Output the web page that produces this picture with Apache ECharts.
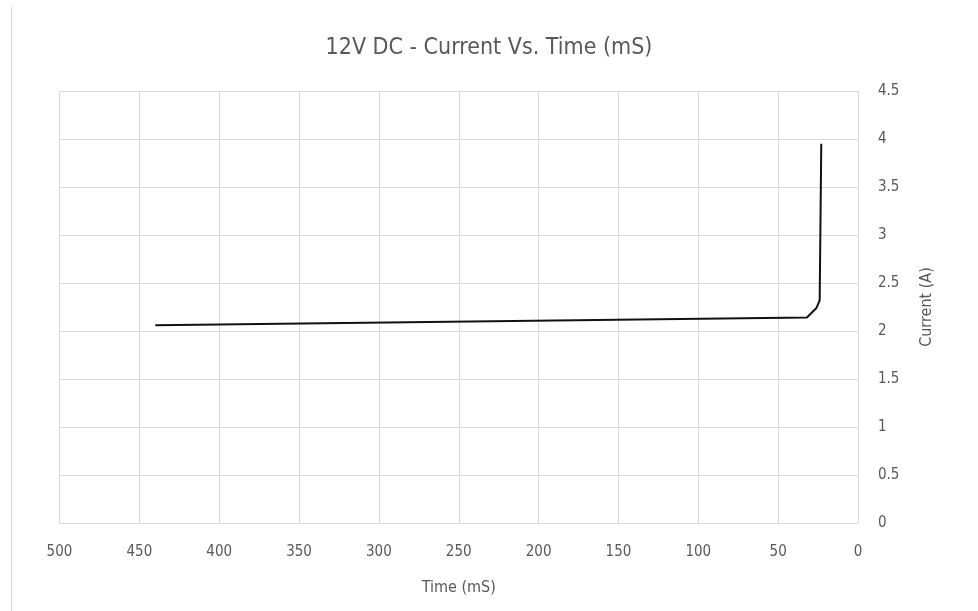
<!DOCTYPE html>
<html>
<head>
<meta charset="utf-8">
<script src="https://cdn.jsdelivr.net/npm/echarts@6/dist/echarts.min.js"></script>
<style>
  html, body { margin: 0; padding: 0; background: #fff; }
  #chart { width: 978px; height: 611px; }
</style>
</head>
<body>
<div id="chart"></div>
<script>
// time in mS (x axis runs 500 -> 0), current in A
const timeMs = [440, 32, 26, 24, 23]
const currentA = [2.06, 2.14, 2.24, 2.32, 3.95]

const titleText = '12V DC - Current Vs. Time (mS)'
const xName = 'Time (mS)'
const yName = 'Current (A)'

const font = '"Liberation Sans Narrow", "DejaVu Sans Condensed", "Noto Sans", sans-serif'
const textColor = '#595959'
const gridColor = '#d9d9d9'

const chart = echarts.init(document.getElementById('chart'), null, { renderer: 'canvas' })

chart.setOption({
  animation: false,
  backgroundColor: '#fff',
  textStyle: { fontFamily: font },
  title: {
    text: titleText,
    left: 'center',
    top: 32,
    textStyle: { color: textColor, fontSize: 23, fontWeight: 'normal', fontFamily: font },
  },
  graphic: [
    {
      type: 'line',
      shape: { x1: 11.5, y1: 7, x2: 11.5, y2: 611 },
      style: { stroke: gridColor, lineWidth: 1 },
    },
  ],
  grid: { left: 59.5, right: 120, top: 91, bottom: 88 },
  xAxis: {
    type: 'value',
    min: 0,
    max: 500,
    interval: 50,
    inverse: true,
    name: xName,
    nameLocation: 'middle',
    nameGap: 57,
    nameTextStyle: { color: textColor, fontSize: 16, fontFamily: font },
    axisLine: { show: true, lineStyle: { color: gridColor } },
    axisTick: { show: false },
    axisLabel: { color: textColor, fontSize: 15, margin: 22, fontFamily: font },
    splitLine: { show: true, lineStyle: { color: gridColor, width: 1 } },
  },
  yAxis: {
    type: 'value',
    position: 'right',
    min: 0,
    max: 4.5,
    interval: 0.5,
    name: yName,
    nameLocation: 'middle',
    nameRotate: 90,
    nameGap: 61,
    nameTextStyle: { color: textColor, fontSize: 16, fontFamily: font },
    axisLine: { show: true, lineStyle: { color: gridColor } },
    axisTick: { show: false },
    axisLabel: { color: textColor, fontSize: 15, margin: 20, fontFamily: font },
    splitLine: { show: true, lineStyle: { color: gridColor, width: 1 } },
  },
  series: [
    {
      type: 'line',
      data: timeMs.map((t, i) => [t, currentA[i]]),
      showSymbol: false,
      lineStyle: { color: '#111', width: 2 },
    },
  ],
})
</script>
</body>
</html>
